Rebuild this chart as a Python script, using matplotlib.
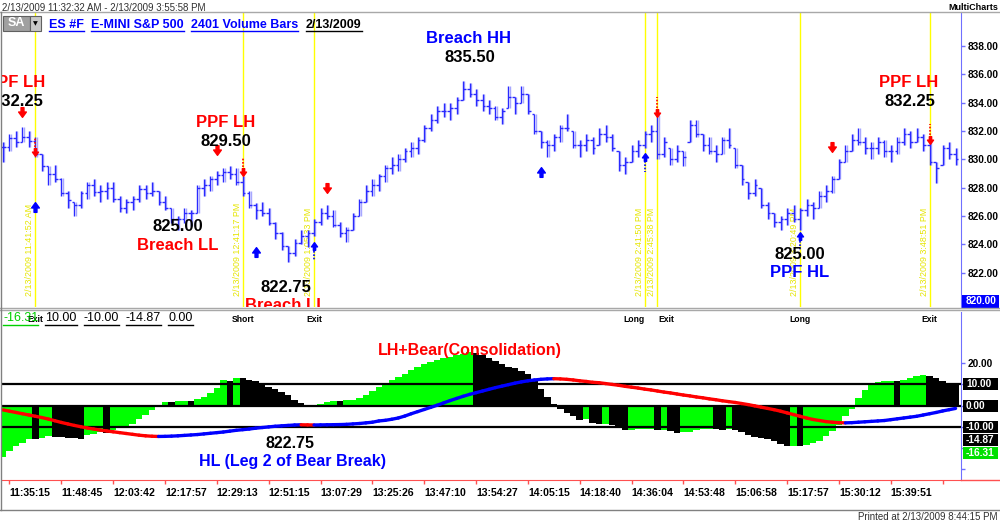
import matplotlib
matplotlib.use("Agg")
import matplotlib.pyplot as plt
import matplotlib.transforms as mtransforms
import numpy as np
from matplotlib.collections import LineCollection
from matplotlib.lines import Line2D
from matplotlib.patches import Rectangle
from matplotlib.path import Path

plt.rcParams['font.family'] = ['Liberation Sans', 'DejaVu Sans']

# ES #F 2401 volume bars, 2/13/2009
highs = [831.2, 831.8, 832.0, 832.25, 832.0, 831.6, 830.4, 829.5, 829.6, 828.7,
         827.8, 827.0, 827.8, 828.4, 828.6, 828.2, 828.4, 828.4, 827.4, 827.2,
         827.4, 828.2, 828.2, 828.4, 827.8, 827.4, 826.6, 826.0, 826.6, 826.4,
         828.2, 828.6, 828.8, 829.2, 829.4, 829.5, 829.4, 828.8, 827.8, 826.9,
         827.0, 826.6, 825.6, 824.9, 823.9, 824.4, 825.0, 825.0, 825.8, 826.6,
         826.8, 826.4, 825.6, 825.2, 826.2, 827.2, 828.2, 828.6, 829.0, 829.6,
         830.2, 830.4, 830.8, 831.2, 831.6, 832.4, 833.2, 833.8, 834.0, 834.0,
         834.4, 835.5, 835.4, 835.0, 834.6, 834.2, 833.8, 833.6, 835.2, 834.4,
         835.2, 834.6, 833.2, 832.0, 831.4, 831.8, 832.4, 833.2, 832.0, 831.4,
         831.8, 831.6, 832.2, 832.4, 831.8, 830.6, 830.2, 831.0, 831.4, 832.0,
         832.4, 833.1, 831.6, 830.8, 831.0, 830.6, 832.8, 832.8, 831.8, 831.6,
         831.0, 831.6, 832.2, 830.8, 829.6, 828.4, 828.6, 828.0, 827.0, 826.2,
         826.0, 826.6, 826.8, 826.6, 827.2, 827.0, 827.8, 828.2, 828.8, 830.0,
         831.0, 831.8, 832.2, 831.6, 831.2, 831.6, 831.4, 831.0, 831.6, 832.2,
         832.0, 832.2, 831.8, 831.2, 829.8, 831.0, 831.2, 830.8]
lows = [829.8, 830.6, 830.9, 831.2, 830.9, 830.2, 829.2, 828.2, 828.4, 827.4,
        826.6, 826.0, 826.6, 827.2, 827.4, 827.0, 827.2, 827.0, 826.3, 826.2,
        826.4, 827.0, 827.2, 827.4, 826.8, 826.4, 825.5, 825.0, 825.5, 825.3,
        826.2, 827.4, 827.8, 828.2, 828.4, 828.6, 828.2, 827.4, 826.6, 825.8,
        826.0, 825.4, 824.4, 823.6, 822.75, 823.2, 824.0, 823.8, 824.6, 825.4,
        825.8, 825.2, 824.5, 824.2, 825.0, 826.0, 827.0, 827.4, 827.8, 828.4,
        829.0, 829.2, 829.8, 830.2, 830.4, 831.2, 832.0, 832.6, 833.0, 832.8,
        833.2, 834.2, 834.4, 833.8, 833.4, 833.2, 832.8, 832.5, 833.6, 833.2,
        834.0, 833.2, 831.8, 830.8, 830.2, 830.6, 831.2, 832.0, 830.8, 830.2,
        830.6, 830.4, 831.0, 831.2, 830.6, 829.2, 829.0, 829.8, 830.2, 830.8,
        831.2, 830.0, 830.2, 829.6, 829.8, 829.5, 831.2, 831.6, 830.6, 830.4,
        829.8, 830.4, 830.8, 829.4, 828.2, 827.2, 827.4, 826.6, 825.8, 825.2,
        825.0, 825.4, 825.6, 825.0, 826.0, 825.8, 826.6, 827.0, 827.6, 828.6,
        829.8, 830.6, 831.0, 830.4, 830.0, 830.4, 830.2, 829.8, 830.4, 831.0,
        830.8, 831.2, 830.6, 829.6, 828.3, 829.6, 830.0, 829.6]
closes = [830.9, 831.5, 831.2, 831.6, 831.3, 830.4, 829.5, 829.0, 828.6, 827.6,
          827.1, 826.8, 827.6, 828.2, 827.7, 827.8, 828.0, 827.2, 826.6, 827.0,
          827.2, 827.9, 827.6, 827.8, 827.0, 826.6, 825.8, 825.8, 826.2, 826.2,
          828.0, 828.2, 828.6, 828.9, 829.1, 829.0, 828.4, 827.6, 826.8, 826.4,
          826.2, 825.5, 824.8, 823.9, 823.4, 824.1, 824.6, 824.8, 825.6, 826.2,
          826.0, 825.4, 824.8, 825.0, 826.0, 827.0, 827.8, 828.2, 828.8, 829.4,
          829.6, 830.0, 830.6, 830.8, 831.4, 832.2, 832.8, 833.4, 833.4, 833.6,
          834.2, 835.0, 834.6, 834.2, 833.8, 833.6, 833.0, 833.4, 834.4, 834.0,
          834.6, 833.4, 832.0, 831.2, 831.0, 831.6, 832.2, 832.2, 831.0, 831.0,
          831.4, 830.8, 831.8, 831.6, 830.8, 829.6, 829.8, 830.6, 831.0, 831.8,
          832.0, 830.4, 831.2, 830.0, 830.6, 830.2, 832.4, 831.8, 831.0, 830.6,
          830.4, 831.4, 831.0, 829.6, 828.6, 827.6, 828.2, 826.8, 826.2, 825.6,
          825.8, 826.2, 825.8, 826.4, 826.8, 826.6, 827.4, 827.8, 828.6, 829.8,
          830.6, 831.4, 831.2, 830.8, 830.8, 831.2, 830.6, 830.6, 831.2, 831.8,
          831.2, 831.6, 831.0, 829.8, 829.4, 830.8, 830.4, 830.0]

# lower study: histogram and its smoothed line
osc = [-24, -21.5, -19, -17.5, -15.5, -15.8, -15.0, -14.3, -14.6, -14.8,
       -15.0, -15.3, -15.6, -14.0, -13.2, -12.6, -12.8, -11.4, -10.6, -9.8,
       -8.5, -6.5, -4.5, -2.0, 0.5, 1.6, 1.5, 2.0, 2.4, 2.3,
       3.0, 4.0, 6.0, 8.5, 12.0, 11.8, 13.2, 13.0, 12.2, 11.4,
       10.3, 9.0, 8.0, 6.5, 4.8, 2.8, 1.2, 0.3, 0.1, 0.6,
       1.5, 2.2, 2.0, 2.6, 2.9, 3.5, 5.0, 7.0, 9.0, 10.6,
       12.0, 13.4, 15.0, 16.6, 18.0, 19.4, 20.4, 21.4, 22.3, 23.1,
       23.8, 24.5, 25.2, 25.0, 24.0, 22.5, 21.0, 19.5, 18.4, 17.8,
       16.5, 15.0, 11.5, 8.0, 4.2, 1.0, -1.5, -3.3, -5.0, -6.6,
       -6.3, -8.2, -8.6, -8.4, -9.0, -10.5, -11.5, -11.3, -11.1, -10.9,
       -10.8, -11.5, -11.3, -12.0, -12.8, -12.6, -12.2, -11.3, -11.0, -10.9,
       -11.2, -11.4, -11.2, -11.5, -12.5, -14.0, -14.6, -15.0, -15.5, -16.8,
       -18.0, -19.0, -18.8, -19.2, -18.6, -17.8, -16.5, -14.5, -12.0, -9.0,
       -5.0, -1.5, 3.5, 7.5, 10.0, 11.0, 11.4, 11.8, 11.6, 12.3,
       13.2, 14.0, 14.5, 13.8, 13.0, 11.8, 10.8, 10.2]
osc_line = [-2.0, -2.6, -3.2, -3.8, -4.4, -5.0, -5.6, -6.3, -7.1, -7.9,
            -8.6, -9.3, -9.9, -10.5, -11.0, -11.5, -11.9, -12.3, -12.7, -13.1,
            -13.5, -13.9, -14.2, -14.4, -14.5, -14.45, -14.35, -14.2, -14.0, -13.8,
            -13.6, -13.3, -13.0, -12.7, -12.4, -12.0, -11.6, -11.3, -11.0, -10.6,
            -10.3, -10.0, -9.7, -9.5, -9.3, -9.1, -9.0, -9.05, -9.1, -9.05,
            -9.0, -8.95, -8.9, -8.8, -8.6, -8.4, -8.1, -7.8, -7.2, -6.9,
            -6.4, -5.8, -4.9, -3.8, -2.8, -1.8, -0.8, 0.2, 1.3, 2.4,
            3.4, 4.4, 5.3, 6.1, 6.9, 7.7, 8.5, 9.2, 9.9, 10.6,
            11.2, 11.7, 12.1, 12.4, 12.6, 12.7, 12.6, 12.4, 12.1, 11.7,
            11.4, 11.0, 10.8, 10.4, 10.0, 9.6, 9.1, 8.7, 8.3, 7.8,
            7.4, 6.9, 6.4, 6.0, 5.5, 5.0, 4.6, 4.1, 3.7, 3.2,
            2.8, 2.3, 1.9, 1.5, 1.0, 0.5, -0.1, -0.7, -1.3, -1.9,
            -2.6, -3.4, -4.2, -5.0, -5.8, -6.5, -7.0, -7.5, -7.8, -8.0,
            -8.1, -8.0, -7.8, -7.6, -7.4, -7.2, -7.0, -6.6, -6.2, -5.8,
            -5.4, -5.0, -4.4, -3.8, -3.2, -2.5, -1.9, -1.3]

time_labels = ['11:35:15', '11:48:45', '12:03:42', '12:17:57', '12:29:13', '12:51:15',
               '13:07:29', '13:25:26', '13:47:10', '13:54:27', '14:05:15', '14:18:40',
               '14:36:04', '14:53:48', '15:06:58', '15:17:57', '15:30:12', '15:39:51']

# trade signals
signal_bars = [5, 37, 48, 99, 101, 123, 143]
signal_names = ['Exit', 'Short', 'Exit', 'Long', 'Exit', 'Long', 'Exit']
signal_times = ['2/13/2009 11:41:52 AM', '2/13/2009 12:41:17 PM', '2/13/2009 1:05:33 PM',
                '2/13/2009 2:41:50 PM', '2/13/2009 2:45:38 PM', '2/13/2009 3:20:49 PM',
                '2/13/2009 3:48:51 PM']
down_bars = [3, 33, 50, 128]
down_prices = [833.34, 830.66, 828.0, 830.87]
up_bars = [5, 39, 83]
up_prices = [826.63, 823.46, 829.1]
dot_down_bars = [5, 37, 101, 143]
dot_down_prices = [830.5, 829.1, 833.3, 831.4]
dot_up_bars = [48, 99, 123]
dot_up_prices = [823.9, 830.2, 824.6]

# swing annotations (text, bar, price, colour)
price_notes = [('PPF LH', 1.9, 835.45, 'red'), ('832.25', 2.3, 834.11, 'black'),
               ('PPF LH', 34.3, 832.63, 'red'), ('829.50', 34.4, 831.29, 'black'),
               ('825.00', 27, 825.29, 'black'), ('Breach LL', 27, 823.95, 'red'),
               ('822.75', 43.7, 820.99, 'black'), ('Breach LL', 43.7, 819.72, 'red'),
               ('Breach HH', 71.9, 838.56, 'blue'), ('835.50', 72.1, 837.22, 'black'),
               ('825.00', 123, 823.25, 'black'), ('PPF HL', 123, 821.98, 'blue'),
               ('PPF LH', 139.8, 835.45, 'red'), ('832.25', 140, 834.11, 'black')]
study_notes = [('LH+Bear(Consolidation)', 72.1, 26.2, 'red'),
               ('822.75', 44.3, -17.6, 'black'),
               ('HL (Leg 2 of Bear Break)', 44.6, -26.5, 'blue')]
study_values = [10.0, 0.0, -10.0, -14.87, -16.31]
study_value_colors = ['black', 'black', 'black', 'black', '#00e000']

W, H = 1000, 523


def fx(x):
    return x / W


def fy(y):
    return 1 - y / H


fig = plt.figure(figsize=(10, 5.23), dpi=100)
step = 6.48
x_lo = (2 - 3) / step
x_hi = (961 - 3) / step

ax1 = fig.add_axes([fx(2), fy(307), fx(961) - fx(2), fy(12) - fy(307)])
ax2 = fig.add_axes([fx(2), fy(480), fx(961) - fx(2), fy(312) - fy(480)])

idx = np.arange(len(closes))
blue_axis = '#7070ff'

# ---- price panel
ax1.set_xlim(x_lo, x_hi)
ax1.set_ylim(819.58, 840.40)
for b in signal_bars:
    ax1.axvline(b, color='#ffff00', lw=1.0, zorder=1)
off = mtransforms.offset_copy(ax1.transData, fig=fig, x=-1, y=0, units='dots')
for b, t in zip(signal_bars, signal_times):
    ax1.text(b, 820.35, t, rotation=90, ha='right', va='bottom', fontsize=6.4,
             color='#e6e600', transform=off, zorder=1)

opens = np.clip([closes[0]] + closes[:-1], lows, highs)
bar_col = '#2a2aff'
ax1.vlines(idx + 0.2, lows, highs, color='#a8a8ff', lw=1.0, zorder=2)
ax1.vlines(idx, lows, highs, color=bar_col, lw=1.0, zorder=3)
ax1.hlines(opens, idx - 0.42, idx, color=bar_col, lw=1.0, zorder=3)
ax1.hlines(closes, idx, idx + 0.42, color=bar_col, lw=1.0, zorder=3)

down_arrow = Path([(-0.3, 1), (0.3, 1), (0.3, 0.1), (0.8, 0.1), (0, -1),
                   (-0.8, 0.1), (-0.3, 0.1), (-0.3, 1)], closed=True)
up_arrow = Path([(x, -y) for x, y in down_arrow.vertices], closed=True)
ax1.plot(down_bars, down_prices, ls='none', marker=down_arrow, ms=7, color='red', zorder=4)
ax1.plot(up_bars, up_prices, ls='none', marker=up_arrow, ms=7, color='blue', zorder=4)
for b, p in zip(dot_down_bars, dot_down_prices):
    ax1.plot([b, b], [p + 0.35, p + 1.1], ls=(0, (1, 1)), color='red', lw=1.2, zorder=4)
    ax1.plot([b], [p], ls='none', marker=down_arrow, ms=5.5, color='red', zorder=4)
for b, p in zip(dot_up_bars, dot_up_prices):
    ax1.plot([b, b], [p - 0.35, p - 1.1], ls=(0, (1, 1)), color='blue', lw=1.2, zorder=4)
    ax1.plot([b], [p], ls='none', marker=up_arrow, ms=5.5, color='blue', zorder=4)

for t, b, p, c in price_notes:
    ax1.text(b, p, t, ha='center', va='center', fontsize=12, fontweight='bold',
             color=c, zorder=5, clip_on=True)

ax1.yaxis.tick_right()
ax1.set_yticks(np.arange(822, 839, 2))
ax1.set_yticklabels(['%.2f' % v for v in np.arange(822, 839, 2)])
ax1.tick_params(axis='y', colors=blue_axis, length=3, width=1, pad=2,
                labelcolor='black', labelsize=7.3)
for lbl in ax1.get_yticklabels():
    lbl.set_fontweight('bold')
ax1.set_xticks([])
for s in ['top', 'left', 'bottom']:
    ax1.spines[s].set_visible(False)
ax1.spines['right'].set_color(blue_axis)

# ---- study panel
ax2.set_xlim(x_lo, x_hi)
ax2.set_ylim(-35.0, 44.1)
hist_colors = ['#00ff00'] + ['#00ff00' if osc[k] >= osc[k - 1] else 'black'
                             for k in range(1, len(osc))]
ax2.text(72, 17.8, '835.50', ha='center', va='center', fontsize=12,
         fontweight='bold', color='black', zorder=1)
ax2.bar(idx, osc, width=1.0, color=hist_colors, linewidth=0, zorder=2)
for lv in (10, 0, -10):
    ax2.axhline(lv, color='black', lw=1.6, zorder=3)
pts = np.column_stack([idx, osc_line])
segs = [[pts[k], pts[k + 1]] for k in range(len(pts) - 1)]
seg_cols = ['red' if osc_line[k + 1] < osc_line[k] else 'blue' for k in range(len(pts) - 1)]
ax2.add_collection(LineCollection(segs, colors=seg_cols, linewidths=2.4, zorder=4,
                                  capstyle='round'))
for t, b, v, c in study_notes:
    ax2.text(b, v, t, ha='center', va='center', fontsize=11.5, fontweight='bold',
             color=c, zorder=5)

ax2.yaxis.tick_right()
ax2.set_yticks([20, 10, 0, -10, -20, -30])
ax2.set_yticklabels(['20.00', '', '', '', '', ''])
ax2.tick_params(axis='y', colors=blue_axis, length=3, width=1, pad=2,
                labelcolor='black', labelsize=7.3)
for lbl in ax2.get_yticklabels():
    lbl.set_fontweight('bold')
ticks = 1 + 8 * np.arange(19)
ax2.set_xticks(ticks)
ax2.set_xticklabels(time_labels + [''])
ax2.tick_params(axis='x', colors='#ff5050', length=3, width=1, pad=3,
                labelcolor='black', labelsize=7.6)
for lbl in ax2.get_xticklabels():
    lbl.set_fontweight('bold')
    lbl.set_horizontalalignment('left')
for s in ['top', 'left']:
    ax2.spines[s].set_visible(False)
ax2.spines['right'].set_color(blue_axis)
ax2.spines['bottom'].set_color('#ff5050')

sig_tr = mtransforms.blended_transform_factory(ax2.transData, fig.transFigure)
name_shift = [0, 0, 0, -1.6, 1.4, 0, 0]
for b, n, d in zip(signal_bars, signal_names, name_shift):
    ax2.text(b + d, fy(319), n, ha='center', va='center', fontsize=6.2,
             fontweight='bold', transform=sig_tr)

# ---- chrome: frame lines, header, value boxes
for y, c in [(12, '#a8a8a8'), (308, '#a8a8a8'), (310, '#a8a8a8'), (510, '#808080')]:
    fig.add_artist(Line2D([0, 1], [fy(y), fy(y)], color=c, lw=1.0))
fig.add_artist(Line2D([fx(1), fx(1)], [fy(12), fy(510)], color='#808080', lw=1.0))
fig.add_artist(Line2D([fx(961), 1], [fy(480), fy(480)], color='#ff5050', lw=1.0))

fig.text(fx(2), fy(8), '2/13/2009 11:32:32 AM - 2/13/2009 3:55:58 PM', fontsize=7,
         va='center', color='#303030')
fig.text(fx(998), fy(7), 'MultiCharts', fontsize=6.5, fontweight='bold', ha='right',
         va='center')
fig.text(fx(998), fy(517), 'Printed at 2/13/2009 8:44:15 PM', fontsize=7, ha='right',
         va='center', color='#303030')

fig.add_artist(Rectangle((fx(3), fy(31)), fx(27), fy(16) - fy(31), transform=fig.transFigure,
                         facecolor='#a0a0a0', edgecolor='#606060', lw=0.8))
fig.add_artist(Rectangle((fx(30), fy(31)), fx(11), fy(16) - fy(31), transform=fig.transFigure,
                         facecolor='#c8c8c8', edgecolor='#606060', lw=0.8))
fig.text(fx(16), fy(23.5), 'SA', fontsize=9, fontweight='bold', color='white',
         ha='center', va='center')
fig.text(fx(35.5), fy(23.5), '\u25bc', fontsize=4.5, color='black', ha='center',
         va='center', family='DejaVu Sans')

underlined = []
for x, t, c in [(49, 'ES #F', '#0000ff'), (91, 'E-MINI S&P 500', '#0000ff'),
                (191, '2401 Volume Bars', '#0000ff'), (306, '2/13/2009', 'black')]:
    underlined.append(fig.text(fx(x), fy(27.5), t, fontsize=9, fontweight='bold',
                               color=c, va='baseline'))

# lower study header values
fig.canvas.draw()
rend = fig.canvas.get_renderer()
x = 3
for v, c in zip(['-16.31', '10.00', '-10.00', '-14.87', '0.00'],
                ['#00d000', 'black', 'black', 'black', 'black']):
    t = fig.text(fx(x), fy(318), v, fontsize=9, color=c, va='center')
    underlined.append(t)
    x = t.get_window_extent(rend).x1 + 7

# boxes on the right axis
box_y = []
for v in study_values:
    y = H - ax2.transData.transform((0, v))[1]
    if box_y and y - box_y[-1] < 13:
        y = box_y[-1] + 13
    box_y.append(y)
for v, y, c in zip(study_values, box_y, study_value_colors):
    fig.add_artist(Rectangle((fx(963), fy(y + 6)), fx(35), fy(y - 6) - fy(y + 6),
                             transform=fig.transFigure, facecolor=c, edgecolor='none'))
    fig.text(fx(966), fy(y), '%.2f' % v, fontsize=7.3, fontweight='bold', color='white',
             va='center')
y820 = H - ax1.transData.transform((0, 820))[1]
fig.add_artist(Rectangle((fx(962), fy(y820 + 6.5)), fx(37), 13 / H,
                         transform=fig.transFigure, facecolor='#0000ff', edgecolor='none'))
fig.text(fx(966), fy(y820), '820.00', fontsize=7.3, fontweight='bold', color='white',
         va='center')

fig.canvas.draw()
for t in underlined:
    bb = t.get_window_extent(rend)
    fig.add_artist(Line2D([bb.x0 / W, bb.x1 / W], [(bb.y0 - 0.5) / H] * 2,
                          color=t.get_color(), lw=1.0))

fig.savefig('out.png', dpi=100)
